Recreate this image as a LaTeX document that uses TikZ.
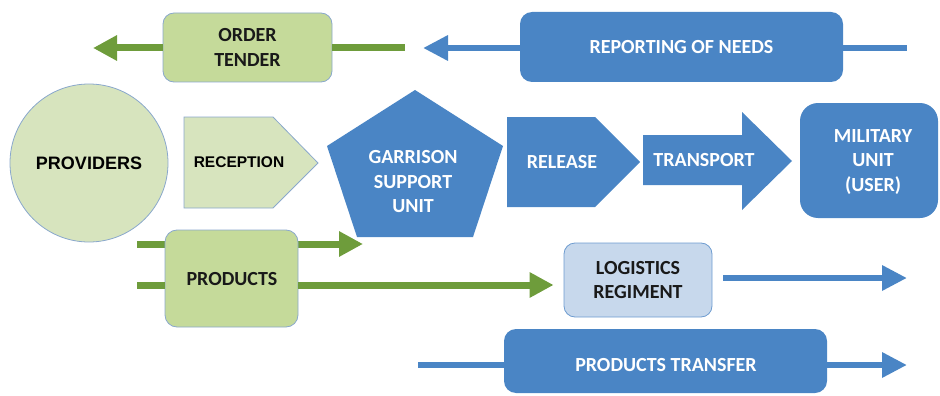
\documentclass[tikz,border=0pt]{standalone}
\usepackage{fontspec}
\setmainfont{Carlito}
\newfontfamily\arialf{Liberation Sans}
\usetikzlibrary{arrows.meta}
\definecolor{bluef}{HTML}{4A85C5}
\definecolor{greenl}{HTML}{6E9C3B}
\definecolor{greenbox}{HTML}{C5DA9A}
\definecolor{greenpale}{HTML}{D7E4BE}
\definecolor{bordbl}{HTML}{8AA8CC}
\definecolor{logfill}{HTML}{C7D8EC}
\definecolor{logbord}{HTML}{6E9CD0}
\tikzset{
  gbox/.style={draw=bordbl, line width=0.8pt, fill=greenbox, rounded corners=11pt, inner sep=0pt},
  bbox/.style={fill=bluef, rounded corners=12pt, inner sep=0pt},
  btxt/.style={text=white, font=\fontsize{20}{24.5}\selectfont\bfseries, align=center},
  ktxt/.style={text=black!90, font=\fontsize{20}{24.5}\selectfont\bfseries, align=center},
  gline/.style={draw=greenl, line width=7pt},
  bline/.style={draw=bluef, line width=6.5pt},
  garr/.style={gline, -{Triangle[length=24pt,width=24pt]}},
  barr/.style={bline, -{Triangle[length=25pt,width=24pt]}},
}
\begin{document}
\begin{tikzpicture}[x=1pt,y=-1pt]
\useasboundingbox (0,0) rectangle (940,396);
% top row
\node[gbox, minimum width=169pt, minimum height=69pt] (ot) at (247.5,47.5) {};
\node[ktxt] (ott) at (ot.center) {ORDER\\TENDER};
\node[bbox, minimum width=323pt, minimum height=70pt] (rn) at (681.5,47) {};
\node[btxt] (rnt) at (rn.center) {REPORTING OF NEEDS};
\coordinate (otl) at (93,48);
\coordinate (otr) at (405,48);
\coordinate (rnl) at (423,48);
\coordinate (rnr) at (907,48);
\draw[garr] (ot.west |- otl) -- (otl);
\draw[gline] (ot.east |- otr) -- (otr);
\draw[barr] (rn.west |- rnl) -- (rnl);
\draw[bline] (rn.east |- rnr) -- (rnr);
% middle row
\node[circle, draw=bordbl, line width=0.8pt, fill=greenpale, minimum size=158pt, inner sep=0pt] (prov) at (89,163) {};
\node[font=\arialf\fontsize{18}{22}\selectfont\bfseries] (provt) at (prov.center) {PROVIDERS};
\draw[draw=bordbl, line width=0.8pt, fill=greenpale] (184,117) -- (273,117) -- (318,163) -- (273,208) -- (184,208) -- cycle;
\node[font=\arialf\fontsize{15.5}{18}\selectfont\bfseries] (rec) at (239,162) {RECEPTION};
\fill[bluef] (415,90) -- (503,146) -- (473,237) -- (357,237) -- (327,146) -- cycle;
\node[btxt] (gsu) at (413,182) {GARRISON\\SUPPORT\\UNIT};
\fill[bluef] (507,117) -- (595,117) -- (640,162) -- (595,207) -- (507,207) -- cycle;
\node[btxt] (rel) at (562,162) {RELEASE};
\fill[bluef] (643,135) -- (742,135) -- (742,112) -- (792,161) -- (742,210) -- (742,185) -- (643,185) -- cycle;
\node[btxt] (tr) at (704,160) {TRANSPORT};
\node[bbox, rounded corners=18pt, minimum width=138pt, minimum height=115pt] (mu) at (869,160.5) {};
\node[btxt] (mut) at (873,162) {MILITARY\\UNIT\\(USER)};
% lower rows
\coordinate (p1s) at (137,244);
\coordinate (p1e) at (363,244);
\coordinate (p2s) at (137,285);
\draw[garr] (p1s) -- (p1e);
\node[gbox, rounded corners=12pt, minimum width=133pt, minimum height=97pt] (pr) at (231.5,278.5) {};
\node[ktxt] (prt) at (232,279) {PRODUCTS};
\node[draw=logbord, line width=0.8pt, fill=logfill, rounded corners=11pt, minimum width=148pt, minimum height=74pt, inner sep=0pt] (lr) at (638,280) {};
\node[ktxt] (lrt) at (lr.center) {LOGISTICS\\REGIMENT};
\draw[gline] (p2s) -- (pr.west |- p2s);
\draw[garr, shorten >=10pt] (pr.east |- p2s) -- (lr.west |- p2s);
\coordinate (lre) at (907,278);
\coordinate (lrs) at (723,278);
\draw[barr] (lrs) -- (lre);
\coordinate (pts) at (418,365);
\coordinate (pte) at (907,365);
\draw[barr] (pts) -- (pte);
\node[bbox, minimum width=323pt, minimum height=64pt] (pt) at (665.5,361) {};
\node[btxt] (ptt) at (666,365) {PRODUCTS TRANSFER};
\end{tikzpicture}
\end{document}
